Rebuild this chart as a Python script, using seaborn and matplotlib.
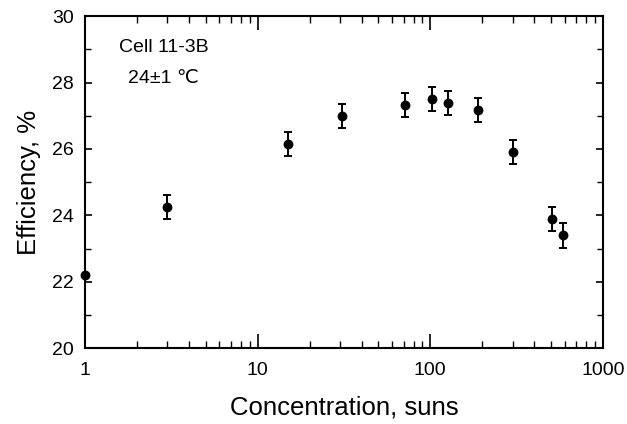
import matplotlib
matplotlib.use("Agg")
import matplotlib.pyplot as plt
import seaborn as sns
import numpy as np
import pandas as pd
from matplotlib.ticker import LogLocator, FixedLocator, NullFormatter, FixedFormatter

# Measured efficiency of cell 11-3B versus solar concentration
concentration = [1, 3, 15, 31, 71, 102, 126, 189, 301, 506, 586]
efficiency = [22.2, 24.25, 26.15, 27.0, 27.32, 27.5, 27.38, 27.17, 25.9, 23.89, 23.4]
error = [0.0, 0.37, 0.36, 0.36, 0.37, 0.37, 0.36, 0.37, 0.36, 0.37, 0.37]

x_ticks = [1, 10, 100, 1000]
x_ticklabels = ["1", "10", "100", "1000"]
y_ticks = [20, 22, 24, 26, 28, 30]
y_ticklabels = ["20", "22", "24", "26", "28", "30"]

df = pd.DataFrame({"conc": concentration, "eff": efficiency, "err": error})

sns.set_theme(style="ticks")
plt.rcParams["font.family"] = ["Liberation Sans", "DejaVu Sans"]

fig = plt.figure(figsize=(6.27, 4.24), dpi=100)
ax = fig.add_axes([0.1356, 0.179, 0.826, 0.783])

has_err = df["err"] > 0
ax.errorbar(df.loc[has_err, "conc"], df.loc[has_err, "eff"], yerr=df.loc[has_err, "err"],
            fmt="none", ecolor="black", elinewidth=1.4, capsize=2.8, capthick=1.4, zorder=2)
sns.scatterplot(data=df, x="conc", y="eff", ax=ax, color="black", s=50,
                edgecolor="black", linewidth=0, zorder=3, clip_on=False, legend=False)

ax.set_xscale("log")
ax.set_xlim(1, 1000)
ax.set_ylim(20, 30)

ax.xaxis.set_major_locator(FixedLocator(x_ticks))
ax.xaxis.set_major_formatter(FixedFormatter(x_ticklabels))
ax.xaxis.set_minor_locator(LogLocator(base=10, subs=np.arange(2, 10)))
ax.xaxis.set_minor_formatter(NullFormatter())
ax.yaxis.set_major_locator(FixedLocator(y_ticks))
ax.yaxis.set_major_formatter(FixedFormatter(y_ticklabels))
ax.yaxis.set_minor_locator(FixedLocator([21, 23, 25, 27, 29]))

ax.tick_params(axis="both", which="both", direction="in", top=True, right=True,
               color="black", labelcolor="black")
ax.tick_params(axis="x", which="major", length=10, width=1.2, labelsize=14, pad=10)
ax.tick_params(axis="x", which="minor", length=5, width=1.0)
ax.tick_params(axis="y", which="major", length=5, width=1.2, labelsize=14, pad=8)
ax.tick_params(axis="y", which="minor", length=4, width=1.0)

for spine in ax.spines.values():
    spine.set_color("black")
    spine.set_linewidth(1.5)

ax.set_xlabel("Concentration, suns", fontsize=18.5, color="black", labelpad=12)
ax.set_ylabel("Efficiency, %", fontsize=18.5, color="black", labelpad=8)

ax.text(0.066, 0.904, "Cell 11-3B", transform=ax.transAxes, fontsize=14, color="black",
        va="center", ha="left")
ax.text(0.083, 0.813, "24±1 ℃", transform=ax.transAxes, fontsize=14, color="black",
        va="center", ha="left")

fig.savefig("out.png", dpi=100, facecolor="white")
